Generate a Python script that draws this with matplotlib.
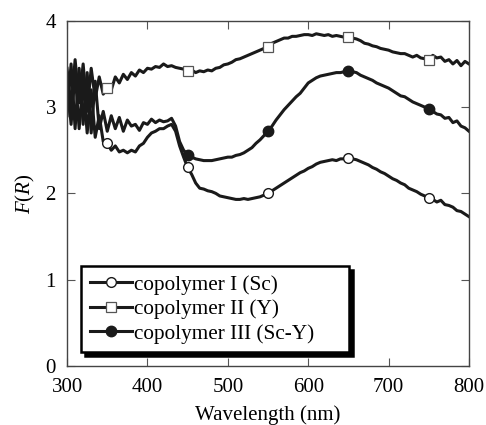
import numpy as np
import matplotlib
matplotlib.use("Agg")
import matplotlib.pyplot as plt

plt.rcParams['font.family'] = ['Liberation Serif', 'DejaVu Serif']
plt.rcParams['mathtext.fontset'] = 'custom'
plt.rcParams['mathtext.it'] = 'Liberation Serif:italic'
plt.rcParams['mathtext.rm'] = 'Liberation Serif'

# wavelength grid (nm), 5 nm steps
wavelength = np.arange(300, 801, 5)

# copolymer I (Sc)
sc = [3.30, 2.80, 3.40, 2.75, 3.30, 2.70, 3.20, 2.65, 2.90, 2.60,
      2.58, 2.50, 2.55, 2.48, 2.50, 2.47, 2.50, 2.48, 2.55, 2.58,
      2.65, 2.70, 2.72, 2.75, 2.75, 2.78, 2.80, 2.72, 2.55, 2.42,
      2.30, 2.22, 2.12, 2.06, 2.05, 2.03, 2.02, 2.00, 1.97, 1.96,
      1.95, 1.94, 1.93, 1.93, 1.94, 1.93, 1.94, 1.95, 1.96, 1.98,
      2.00, 2.03, 2.06, 2.09, 2.12, 2.15, 2.18, 2.21, 2.24, 2.26,
      2.29, 2.31, 2.34, 2.36, 2.37, 2.38, 2.39, 2.38, 2.40, 2.40,
      2.41, 2.40, 2.39, 2.37, 2.35, 2.33, 2.30, 2.28, 2.25, 2.23,
      2.20, 2.17, 2.15, 2.12, 2.10, 2.06, 2.04, 2.02, 1.99, 1.97,
      1.95, 1.93, 1.90, 1.92, 1.87, 1.86, 1.84, 1.80, 1.79, 1.76,
      1.73]

# copolymer II (Y)
y_ = [3.45, 3.00, 3.55, 3.05, 3.50, 2.95, 3.45, 3.10, 3.35, 3.15,
      3.22, 3.20, 3.35, 3.28, 3.38, 3.32, 3.40, 3.36, 3.43, 3.40,
      3.45, 3.44, 3.47, 3.46, 3.50, 3.47, 3.48, 3.46, 3.45, 3.44,
      3.42, 3.43, 3.40, 3.42, 3.41, 3.43, 3.42, 3.45, 3.46, 3.49,
      3.50, 3.52, 3.55, 3.56, 3.58, 3.60, 3.62, 3.64, 3.66, 3.68,
      3.70, 3.74, 3.76, 3.78, 3.80, 3.80, 3.82, 3.82, 3.83, 3.84,
      3.84, 3.83, 3.85, 3.84, 3.83, 3.84, 3.82, 3.83, 3.82, 3.81,
      3.81, 3.80, 3.79, 3.77, 3.74, 3.73, 3.71, 3.70, 3.68, 3.67,
      3.66, 3.64, 3.63, 3.62, 3.62, 3.60, 3.58, 3.60, 3.57, 3.56,
      3.55, 3.60, 3.57, 3.58, 3.53, 3.55, 3.50, 3.54, 3.48, 3.53,
      3.50]

# copolymer III (Sc-Y)
scy = [2.90, 3.50, 2.75, 3.45, 2.80, 3.40, 2.70, 3.30, 2.75, 2.95,
       2.72, 2.90, 2.75, 2.88, 2.72, 2.85, 2.78, 2.80, 2.73, 2.82,
       2.80, 2.86, 2.82, 2.85, 2.83, 2.84, 2.87, 2.78, 2.60, 2.50,
       2.45, 2.42, 2.40, 2.39, 2.38, 2.38, 2.38, 2.39, 2.40, 2.41,
       2.42, 2.42, 2.44, 2.45, 2.47, 2.50, 2.53, 2.58, 2.62, 2.67,
       2.72, 2.78, 2.85, 2.91, 2.97, 3.02, 3.07, 3.12, 3.16, 3.22,
       3.28, 3.31, 3.34, 3.36, 3.37, 3.38, 3.39, 3.40, 3.40, 3.41,
       3.42, 3.41, 3.40, 3.37, 3.35, 3.33, 3.31, 3.28, 3.26, 3.24,
       3.22, 3.19, 3.16, 3.13, 3.12, 3.09, 3.06, 3.04, 3.02, 3.00,
       2.98, 2.95, 2.92, 2.91, 2.87, 2.88, 2.82, 2.84, 2.78, 2.76,
       2.72]

marker_wl = [350, 450, 550, 650, 750]
marker_wl_scy = [450, 550, 650, 750]


def idx(wls):
    return [int(np.where(wavelength == w)[0][0]) for w in wls]


fig = plt.figure(figsize=(4.86, 4.25), dpi=100)
ax = fig.add_axes([0.138, 0.139, 0.827, 0.812])

lc = '#1a1a1a'
ax.plot(wavelength, sc, color=lc, lw=2.2, marker='o', markevery=idx(marker_wl),
        ms=7, mfc='white', mec=lc, mew=1.0, label='copolymer I (Sc)')
ax.plot(wavelength, y_, color=lc, lw=2.2, marker='s', markevery=idx(marker_wl),
        ms=7.5, mfc='white', mec='#555555', mew=0.9, label='copolymer II (Y)')
ax.plot(wavelength, scy, color=lc, lw=2.2, marker='o', markevery=idx(marker_wl_scy),
        ms=7.5, mfc=lc, mec=lc, label='copolymer III (Sc-Y)')

ax.set_xlim(300, 800)
ax.set_ylim(0, 4)
ax.set_xticks([300, 400, 500, 600, 700, 800])
ax.set_yticks([0, 1, 2, 3, 4])
ax.tick_params(direction='in', top=True, right=True, labelsize=15,
               length=6, width=0.8, color='#555555')
ax.tick_params(axis='x', pad=9)
ax.tick_params(axis='y', pad=8)
for s in ax.spines.values():
    s.set_color('#444444')
    s.set_linewidth(1.0)

ax.set_xlabel('Wavelength (nm)', fontsize=15, labelpad=6)
ax.set_ylabel('$F$($R$)', fontsize=15, labelpad=6)

leg = ax.legend(loc='lower left', bbox_to_anchor=(0.035, 0.04, 0.667, 0.2),
                mode='expand', borderaxespad=0,
                fontsize=15.3, frameon=True, fancybox=False, handlelength=2.0,
                handletextpad=0.1, borderpad=0.4, labelspacing=0.22,
                shadow={'ox': 2.5, 'oy': -2.5, 'color': 'black', 'alpha': 1})
leg.get_frame().set_edgecolor('black')
leg.get_frame().set_linewidth(1.8)

fig.savefig('out.png', dpi=100)
